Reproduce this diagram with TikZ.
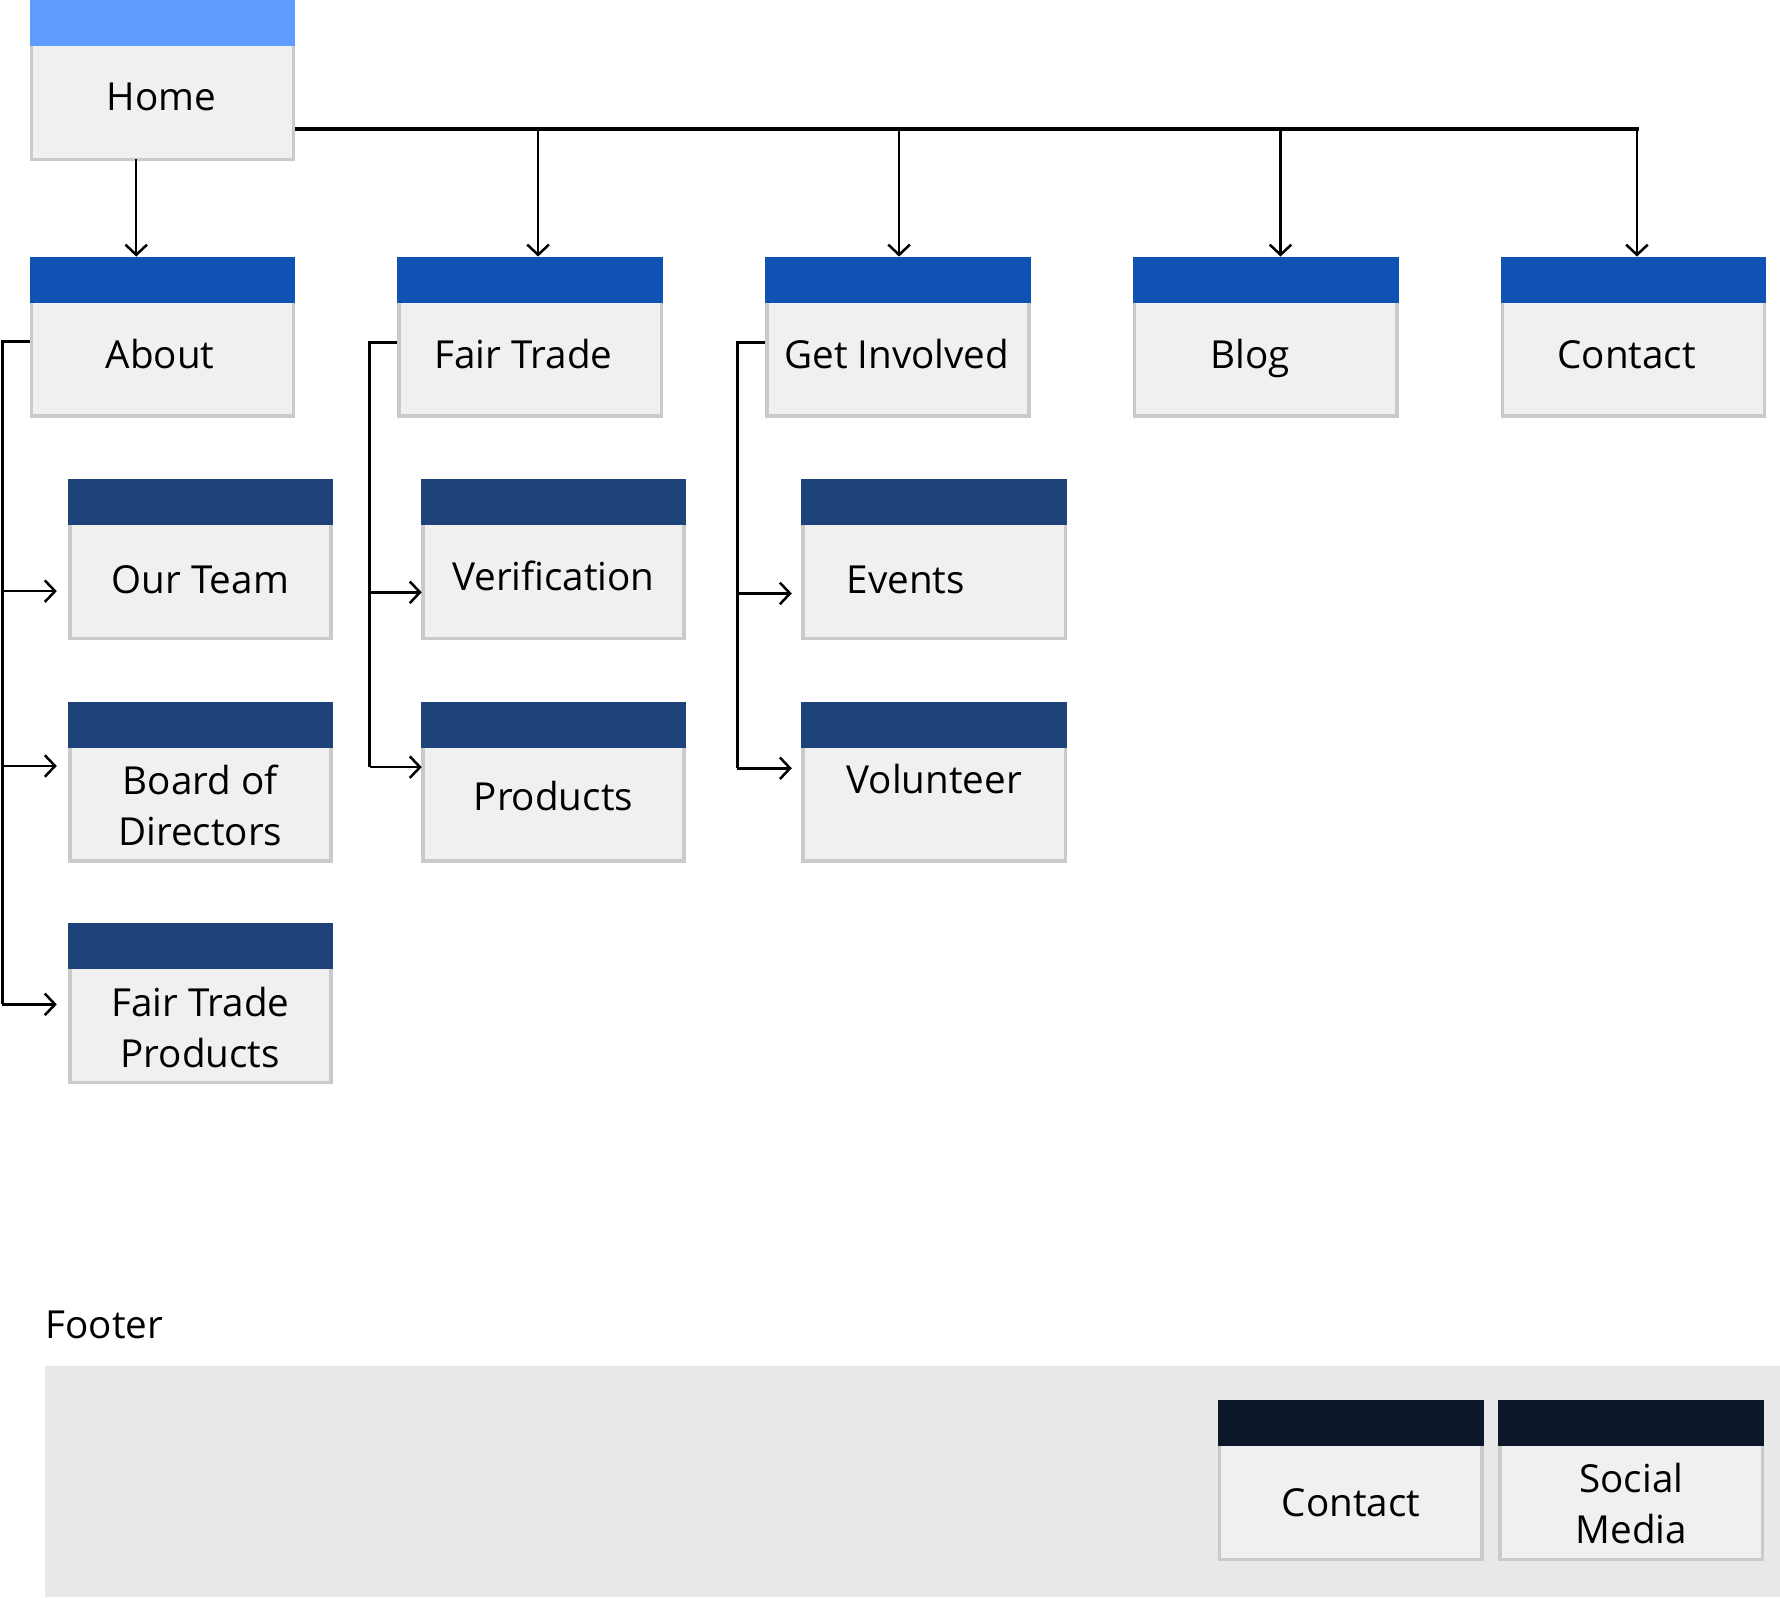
\documentclass[tikz,border=0pt]{standalone}
\usepackage{fontspec}
\setmainfont{Open Sans}
\usetikzlibrary{arrows.meta,calc}
\definecolor{homehead}{HTML}{5E9DFE}
\definecolor{mainhead}{HTML}{1052B4}
\definecolor{subhead}{HTML}{1E437B}
\definecolor{foothead}{HTML}{0C1829}
\definecolor{bodyfill}{HTML}{F1F0F1}
\definecolor{bodyline}{HTML}{CACACA}
\definecolor{footfill}{HTML}{E8E8E8}
\tikzset{
  pagebody/.style={draw=bodyline, fill=bodyfill, line width=3pt, inner sep=0pt, outer sep=0pt, anchor=north west, minimum height=101.5pt},
  pagetext/.style={font=\fontsize{34}{45}\selectfont, align=center, inner sep=0pt},
  onetext/.style={pagetext, text height=24.5pt, text depth=0pt},
  arrowline/.style={draw=black, line width=2.2pt, -{Straight Barb[length=9pt,width=19pt]}},
  busline/.style={draw=black, line width=3.1pt},
  elbowline/.style={draw=black, line width=2.8pt},
}
% name, left, top, width, header colour, dx, dy, text style, text
\newcommand\pagebox[9]{%
  \node[pagebody, minimum width={(#4-3)*1pt}] (#1) at ({#2+1.5},{#3+39}) {};
  \fill[#5] (#2,#3) rectangle ({#2+#4},{#3+40.5});
  \node[#8] (#1-text) at ($(#1.center)+(#6,#7)$) {#9};
}
\begin{document}
\begin{tikzpicture}[x=1pt,y=-1pt]
\useasboundingbox (0,0) rectangle (1568,1407);
% top level
\pagebox{home}{26}{0}{234}{homehead}{-1}{-5}{onetext}{Home}
\pagebox{about}{26}{226}{234}{mainhead}{-2}{-3}{onetext}{About}
\pagebox{fairtrade}{350}{226}{234}{mainhead}{-6}{-3}{onetext}{Fair Trade}
\pagebox{getinv}{674}{226}{234}{mainhead}{-1}{-3}{onetext}{Get Involved}
\pagebox{blog}{998}{226}{234}{mainhead}{-14}{-3}{onetext}{Blog}
\pagebox{contact}{1322}{226}{234}{mainhead}{-6}{-3}{onetext}{Contact}
% children
\pagebox{ourteam}{60}{422}{233}{subhead}{0}{-1}{onetext}{Our Team}
\pagebox{board}{60}{618}{233}{subhead}{0}{2}{pagetext}{Board of\\Directors}
\pagebox{ftp}{60}{813}{233}{subhead}{0}{2}{pagetext}{Fair Trade\\Products}
\pagebox{verif}{371}{422}{233}{subhead}{0}{-4}{onetext}{Verification}
\pagebox{products}{371}{618}{233}{subhead}{0}{-6}{onetext}{Products}
\pagebox{events}{706}{422}{234}{subhead}{-25}{-1}{onetext}{Events}
\pagebox{volunteer}{706}{618}{234}{subhead}{0}{-21}{onetext}{Volunteer}
% footer
\node[fill=footfill, inner sep=0pt, outer sep=0pt, anchor=north west, minimum width=1528pt, minimum height=204pt] (footer) at (40,1203) {};
\node[onetext, anchor=west] (footerlabel) at (40,1167) {Footer};
\pagebox{fcontact}{1073}{1233}{234}{foothead}{0}{1}{onetext}{Contact}
\pagebox{fsocial}{1320}{1233}{234}{foothead}{0}{2}{pagetext}{Social\\Media}
% top connectors
\coordinate (bus) at ($(home.south east)+(1.5,-27)$);
\coordinate (tAbout) at ($(about.north)+(-23,-39)$);
\coordinate (tFT) at ($(fairtrade.north)+(7,-39)$);
\coordinate (tGI) at ($(getinv.north)+(1,-39)$);
\coordinate (tBlog) at ($(blog.north)+(13,-39)$);
\coordinate (tContact) at ($(contact.north)+(3,-39)$);
\draw[busline] (bus) -- ($(bus -| tContact)+(1.55,0)$);
\draw[arrowline] (bus -| tFT) -- (tFT);
\draw[arrowline] (bus -| tGI) -- (tGI);
\draw[arrowline] (bus -| tBlog) -- (tBlog);
\draw[arrowline] (bus -| tContact) -- (tContact);
\draw[arrowline] (home.south -| tAbout) -- (tAbout);
% About children
\coordinate (aS) at ($(about.west)+(-1.5,-15)$);
\coordinate (aT) at ($(aS)+(-24,0)$);
\coordinate (otT) at ($(ourteam.west)+(-11.5,9)$);
\coordinate (bdT) at ($(board.west)+(-11.5,-33)$);
\coordinate (ftpT) at ($(ftp.west)+(-11.5,-18)$);
\draw[elbowline] (aS) -- (aT) -- (aT |- ftpT);
\draw[arrowline] (aT |- otT) -- (otT);
\draw[arrowline] (aT |- bdT) -- (bdT);
\draw[arrowline] (aT |- ftpT) -- (ftpT);
% Fair Trade children
\coordinate (fS) at ($(fairtrade.west)+(-1.5,-14)$);
\coordinate (fT) at ($(fS)+(-24.5,0)$);
\coordinate (vfT) at ($(verif.west)+(-1,10)$);
\coordinate (prT) at ($(products.west)+(-1,-32)$);
\draw[elbowline] (fS) -- (fT) -- (fT |- prT);
\draw[arrowline] (fT |- vfT) -- (vfT);
\draw[arrowline] (fT |- prT) -- (prT);
% Get Involved children
\coordinate (gS) at ($(getinv.west)+(-1.5,-14)$);
\coordinate (gT) at ($(gS)+(-24.5,0)$);
\coordinate (evT) at ($(events.west)+(-10,11)$);
\coordinate (voT) at ($(volunteer.west)+(-10,-31)$);
\draw[elbowline] (gS) -- (gT) -- (gT |- voT);
\draw[arrowline] (gT |- evT) -- (evT);
\draw[arrowline] (gT |- voT) -- (voT);
\end{tikzpicture}
\end{document}
